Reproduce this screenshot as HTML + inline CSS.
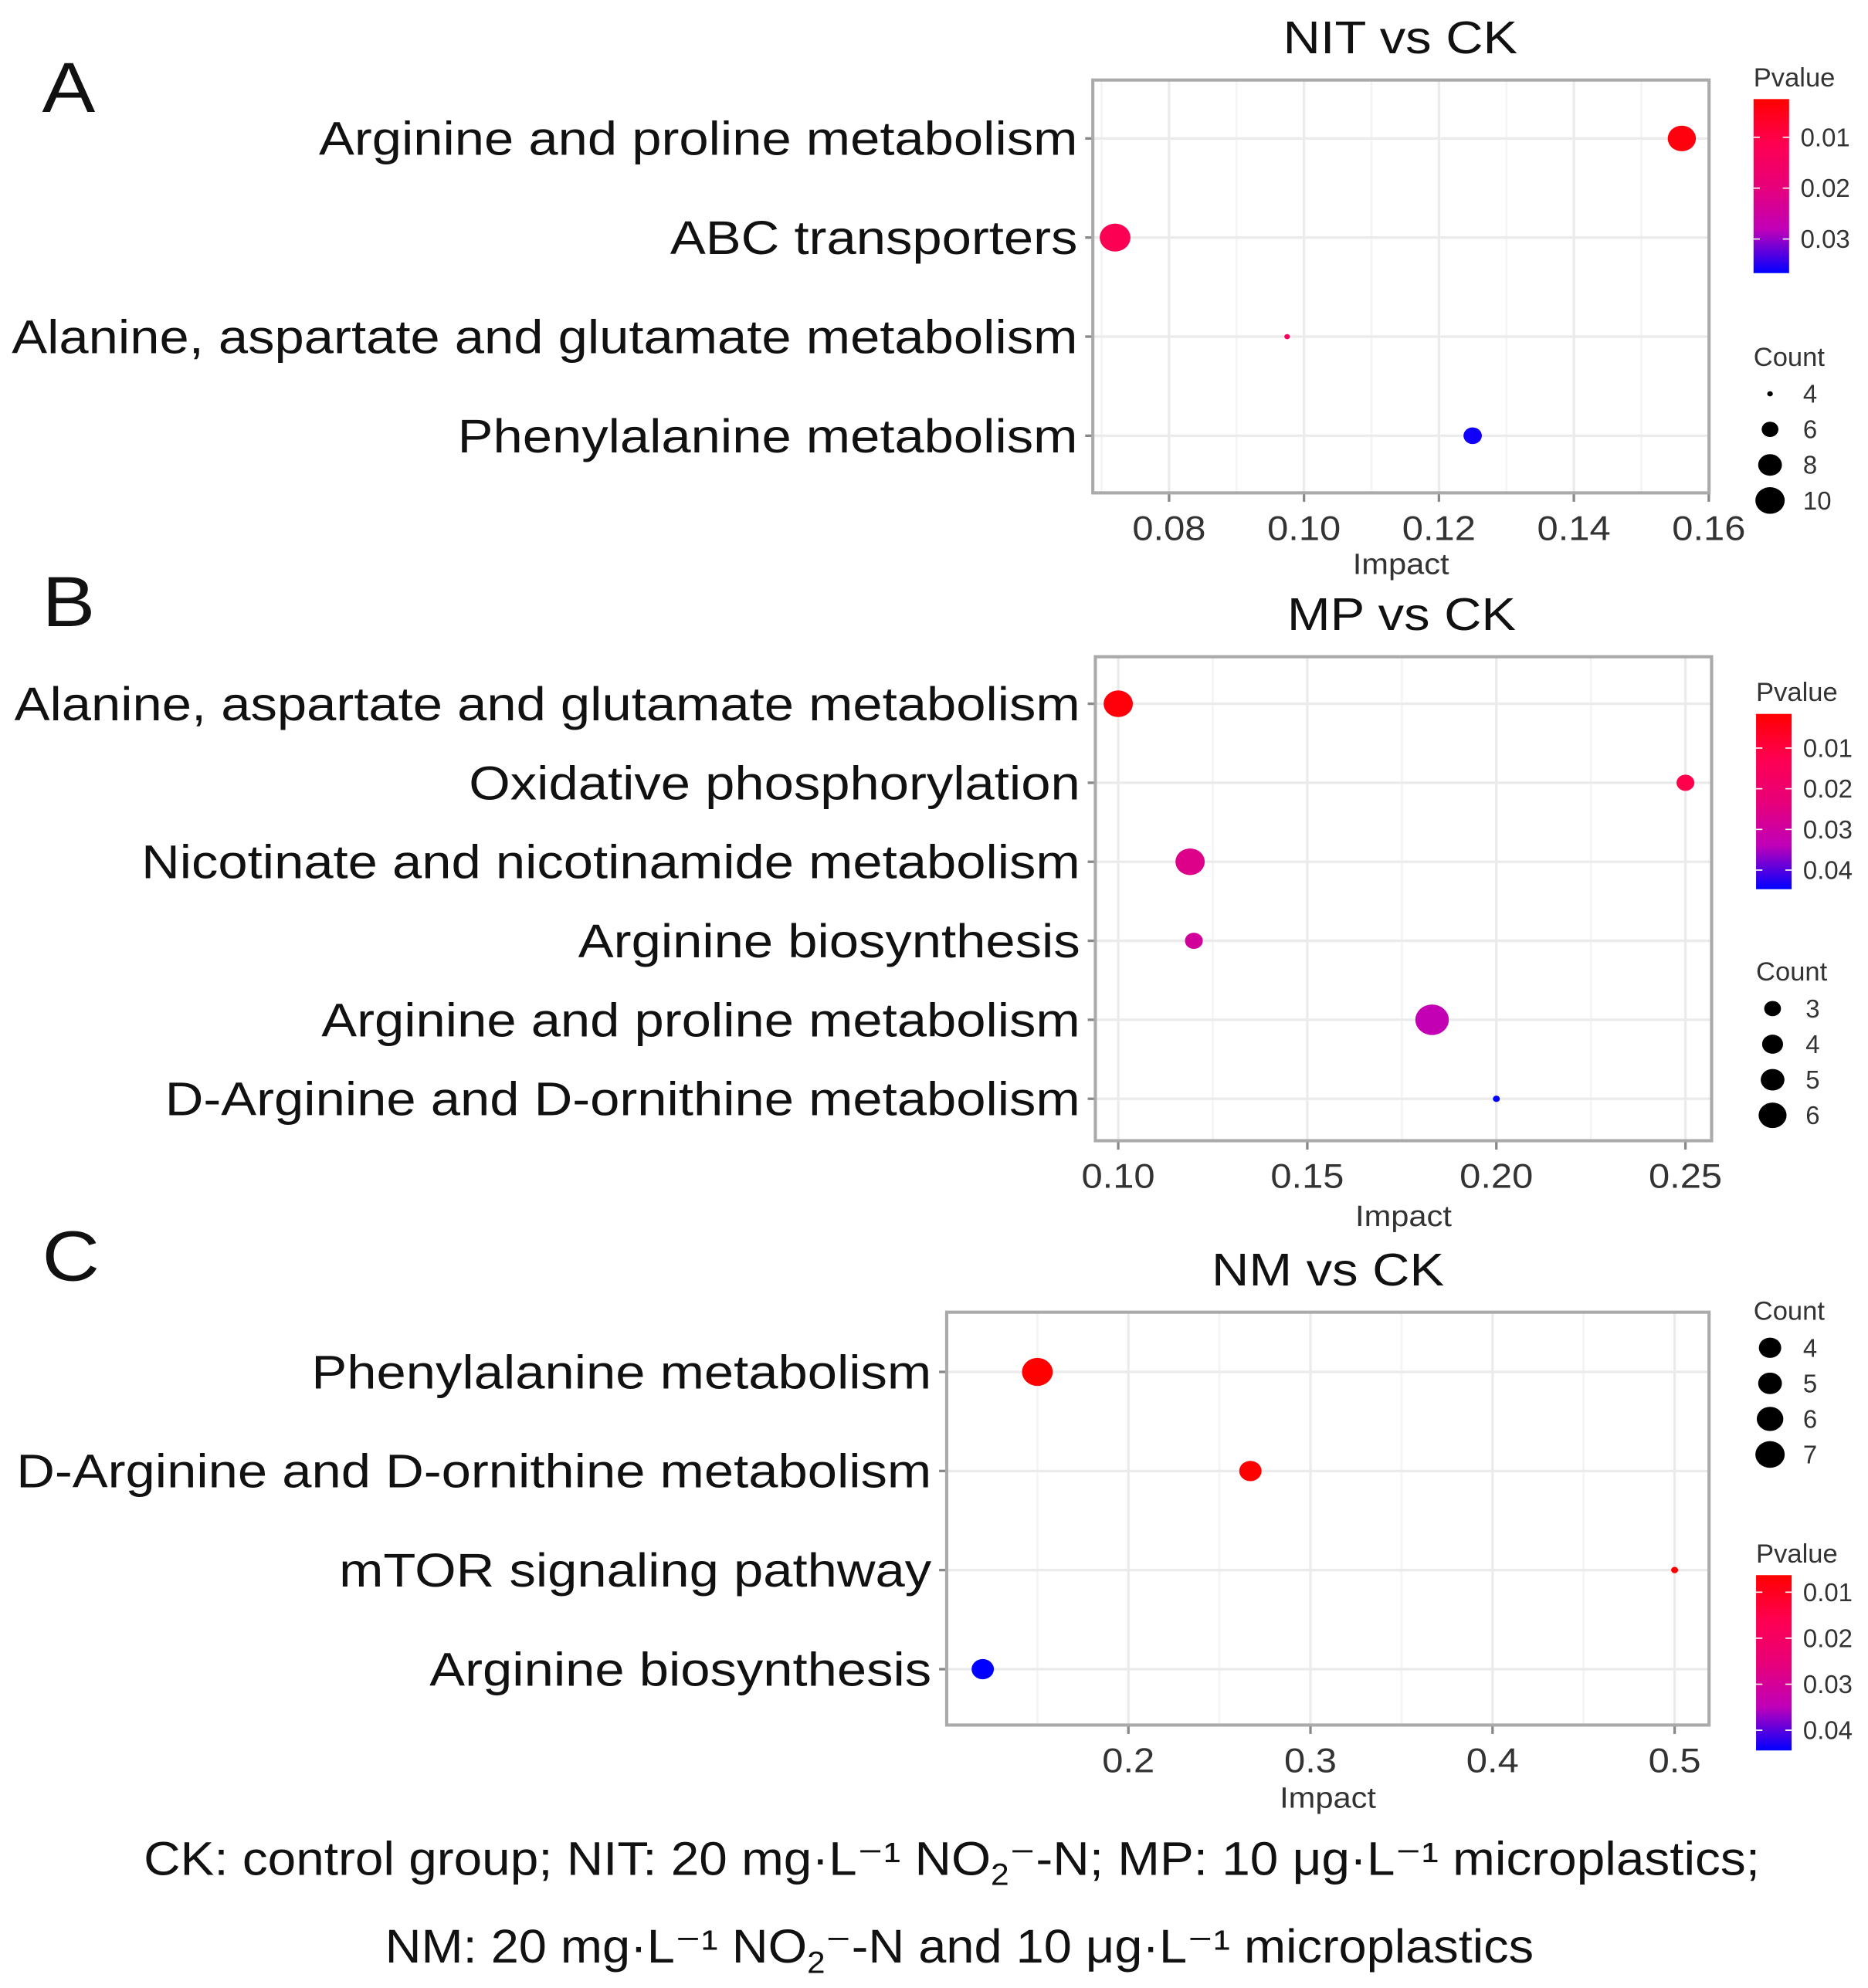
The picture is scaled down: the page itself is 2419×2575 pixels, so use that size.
<!DOCTYPE html>
<html><head><meta charset="utf-8"><style>
html,body{margin:0;padding:0;background:#fff}
svg{display:block;font-family:"Liberation Sans",Arial,sans-serif}
</style></head><body>
<svg id="fig" width="2419" height="2575" viewBox="0 0 1470 1565" xmlns="http://www.w3.org/2000/svg">
<defs>
<linearGradient id="pg" x1="0" y1="0" x2="0" y2="1">
<stop offset="0" stop-color="#ff0000"/><stop offset="0.25" stop-color="#ff0050"/><stop offset="0.5" stop-color="#e80078"/><stop offset="0.75" stop-color="#c000b8"/><stop offset="1" stop-color="#0000ff"/>
</linearGradient>
</defs>
<g id="root"></g>
<text x="113" y="1476" font-size="37" fill="#111" textLength="1272" lengthAdjust="spacingAndGlyphs">CK: control group; NIT: 20 mg·L⁻¹ NO<tspan font-size="24" dy="8">2</tspan><tspan dy="-8">⁻-N; MP: 10 μg·L⁻¹ microplastics;</tspan></text>
<text x="303" y="1545" font-size="37" fill="#111" textLength="904" lengthAdjust="spacingAndGlyphs">NM: 20 mg·L⁻¹ NO<tspan font-size="24" dy="8">2</tspan><tspan dy="-8">⁻-N and 10 μg·L⁻¹ microplastics</tspan></text>
</svg>
<script>
// Panel A data
const catsA = ["Arginine and proline metabolism","ABC transporters","Alanine, aspartate and glutamate metabolism","Phenylalanine metabolism"];
const impactA = [0.156, 0.072, 0.0975, 0.125];
const pvalA = [0.004, 0.012, 0.014, 0.036];
const countA = [9, 10, 4, 6];
const ticksA = [0.08, 0.10, 0.12, 0.14, 0.16];
const tickLabA = ["0.08","0.10","0.12","0.14","0.16"];
const pTicksA = [0.01, 0.02, 0.03];
const cLegA = [4, 6, 8, 10];
// Panel B data
const catsB = ["Alanine, aspartate and glutamate metabolism","Oxidative phosphorylation","Nicotinate and nicotinamide metabolism","Arginine biosynthesis","Arginine and proline metabolism","D-Arginine and D-ornithine metabolism"];
const impactB = [0.10, 0.25, 0.119, 0.12, 0.183, 0.20];
const pvalB = [0.003, 0.012, 0.026, 0.029, 0.033, 0.045];
const countB = [5, 3, 5, 3, 6, 2];
const ticksB = [0.10, 0.15, 0.20, 0.25];
const tickLabB = ["0.10","0.15","0.20","0.25"];
const pTicksB = [0.01, 0.02, 0.03, 0.04];
const cLegB = [3, 4, 5, 6];
// Panel C data
const catsC = ["Phenylalanine metabolism","D-Arginine and D-ornithine metabolism","mTOR signaling pathway","Arginine biosynthesis"];
const impactC = [0.15, 0.267, 0.50, 0.12];
const pvalC = [0.003, 0.004, 0.003, 0.045];
const countC = [7, 5, 3, 5];
const ticksC = [0.2, 0.3, 0.4, 0.5];
const tickLabC = ["0.2","0.3","0.4","0.5"];
const pTicksC = [0.01, 0.02, 0.03, 0.04];
const cLegC = [4, 5, 6, 7];

const NS="http://www.w3.org/2000/svg";
const root=document.getElementById('root');
function mk(tag,attrs,parent,txt){const e=document.createElementNS(NS,tag);for(const k in attrs)e.setAttribute(k,attrs[k]);if(txt!==undefined)e.textContent=txt;(parent||root).appendChild(e);return e;}
function stretch(el,f){const w=el.getComputedTextLength();el.setAttribute('textLength',(w*f).toFixed(1));el.setAttribute('lengthAdjust','spacingAndGlyphs');}
const stops=[[255,0,0],[255,0,80],[232,0,120],[192,0,184],[0,0,255]];
function colorAt(t){t=Math.max(0,Math.min(1,t));const s=t*4,i=Math.min(3,Math.floor(s)),f=s-i;const a=stops[i],b=stops[i+1];return `rgb(${a.map((v,k)=>Math.round(v+(b[k]-v)*f)).join(',')})`;}

function panel(P){
  const g=mk('g',{});
  
  
  const xs=v=>P.x0+(v-P.v0)*P.k;
  const t=mk('text',{x:P.letterX,y:P.letterY,'font-size':56,fill:'#111'},g,P.letter);
  
  stretch(t,1.12);
  const ti=mk('text',{x:P.titleX,y:P.titleY,'font-size':36,fill:'#111','text-anchor':'middle'},g,P.title);
  
  stretch(ti,1.13);
  const b=P.box;
  mk('rect',{x:b[0],y:b[1],width:b[2]-b[0],height:b[3]-b[1],fill:'#fff'},g);
  for(let i=0;i<P.ticks.length;i++){
    const X=xs(P.ticks[i]);
    mk('line',{x1:X,x2:X,y1:b[1],y2:b[3],stroke:'#ebebeb','stroke-width':2},g);
    const step=P.ticks[1]-P.ticks[0];
    [P.ticks[i]-step/2,P.ticks[i]+step/2].forEach(m=>{const mx=xs(m);if(mx>b[0]&&mx<b[2])mk('line',{x1:mx,x2:mx,y1:b[1],y2:b[3],stroke:'#f4f4f4','stroke-width':1.5},g);});
    mk('line',{x1:X,x2:X,y1:b[3],y2:b[3]+7,stroke:'#888','stroke-width':2},g);
    const tl=mk('text',{x:X,y:b[3]+37,'font-size':27,fill:'#333','text-anchor':'middle'},g,P.tickLab[i]);
    
    stretch(tl,1.1);
  }
  P.cats.forEach((c,i)=>{
    const Y=P.rows[0]+i*P.rowStep;
    mk('line',{x1:b[0],x2:b[2],y1:Y,y2:Y,stroke:'#ebebeb','stroke-width':2},g);
    mk('line',{x1:b[0]-6,x2:b[0],y1:Y,y2:Y,stroke:'#888','stroke-width':2},g);
    const lab=mk('text',{x:b[0]-12,y:Y+13,'font-size':37,fill:'#111','text-anchor':'end'},g,c);
    
    stretch(lab,1.13);
  });
  mk('rect',{x:b[0],y:b[1],width:b[2]-b[0],height:b[3]-b[1],fill:'none',stroke:'#aaa','stroke-width':2.5},g);
  const at=mk('text',{x:(b[0]+b[2])/2,y:P.axisTitleY,'font-size':23,fill:'#333','text-anchor':'middle'},g,'Impact');
  
  stretch(at,1.1);
  const cmin=Math.min(...P.count),cmax=Math.max(...P.count);
  const rad=c=>Math.sqrt(P.rmin*P.rmin+(P.rmax*P.rmax-P.rmin*P.rmin)*(c-cmin)/Math.max(1,cmax-cmin));
  const pcol=p=>colorAt((p-P.pTop)/(P.pBot-P.pTop));
  P.cats.forEach((c,i)=>{
    const Y=P.rows[0]+i*P.rowStep, r=rad(P.count[i]);
    const d=mk('ellipse',{cx:xs(P.impact[i]),cy:Y,rx:r*1.1,ry:r,fill:pcol(P.pval[i])},g);
    
    
  });
  const L=P.pLeg;
  const pt=mk('text',{x:L.x,y:L.y0-10,'font-size':21,fill:'#333'},g,'Pvalue');
  
  const bar=mk('rect',{x:L.x,y:L.y0,width:28,height:L.y1-L.y0,fill:'url(#pg)'},g);
  
  P.pTicks.forEach(p=>{const Y=L.y0+(p-P.pTop)/(P.pBot-P.pTop)*(L.y1-L.y0);
    mk('line',{x1:L.x,x2:L.x+5,y1:Y,y2:Y,stroke:'#fff','stroke-width':1},g);
    mk('line',{x1:L.x+23,x2:L.x+28,y1:Y,y2:Y,stroke:'#fff','stroke-width':1},g);
    const lt=mk('text',{x:L.x+37,y:Y+7,'font-size':20,fill:'#333'},g,p.toFixed(2));
    });
  const C=P.cLeg;
  const ct=mk('text',{x:C.x-13,y:C.y0-22,'font-size':21,fill:'#333'},g,'Count');
  
  P.cLegVals.forEach((v,i)=>{const Y=C.y0+i*28;const r=Math.min(C.rs[i],12);
    const e=mk('ellipse',{cx:C.x,cy:Y,rx:r*1.1,ry:r,fill:'#000'},g);
    
    const lt=mk('text',{x:C.x+26,y:Y+7,'font-size':20,fill:'#333'},g,String(v));
    });
}
panel({id:'a',letter:'A',letterX:33,letterY:88,title:'NIT vs  CK',titleX:1102,titleY:42,box:[860,63,1345,388],
  x0:920,v0:0.08,k:5310,ticks:ticksA,tickLab:tickLabA,cats:catsA,rows:[109],rowStep:78,impact:impactA,pval:pvalA,count:countA,
  rmin:2,rmax:11,pTop:0.0025,pBot:0.0367,pTicks:pTicksA,axisTitleY:452,
  pLeg:{x:1380,y0:78,y1:215},cLeg:{x:1393,y0:310,rs:[2,6,8.5,10.5]},cLegVals:cLegA});
panel({id:'b',letter:'B',letterX:33,letterY:493,title:'MP vs CK',titleX:1103,titleY:496,box:[862,517,1347,898],
  x0:880,v0:0.10,k:2976,ticks:ticksB,tickLab:tickLabB,cats:catsB,rows:[554],rowStep:62.2,impact:impactB,pval:pvalB,count:countB,
  rmin:2.5,rmax:12,pTop:0.0016,pBot:0.0447,pTicks:pTicksB,axisTitleY:965,
  pLeg:{x:1382,y0:562,y1:700},cLeg:{x:1395,y0:794,rs:[6,7.5,8.5,10]},cLegVals:cLegB});
panel({id:'c',letter:'C',letterX:33,letterY:1008,title:'NM vs CK',titleX:1045,titleY:1012,box:[745,1033,1345,1358],
  x0:888,v0:0.2,k:1433,ticks:ticksC,tickLab:tickLabC,cats:catsC,rows:[1080],rowStep:78,impact:impactC,pval:pvalC,count:countC,
  rmin:2.5,rmax:11,pTop:0.0063,pBot:0.0444,pTicks:pTicksC,axisTitleY:1423,
  pLeg:{x:1382,y0:1240,y1:1378},cLeg:{x:1393,y0:1061,rs:[8,8.5,9.5,10.5]},cLegVals:cLegC});
</script>
</body></html>
